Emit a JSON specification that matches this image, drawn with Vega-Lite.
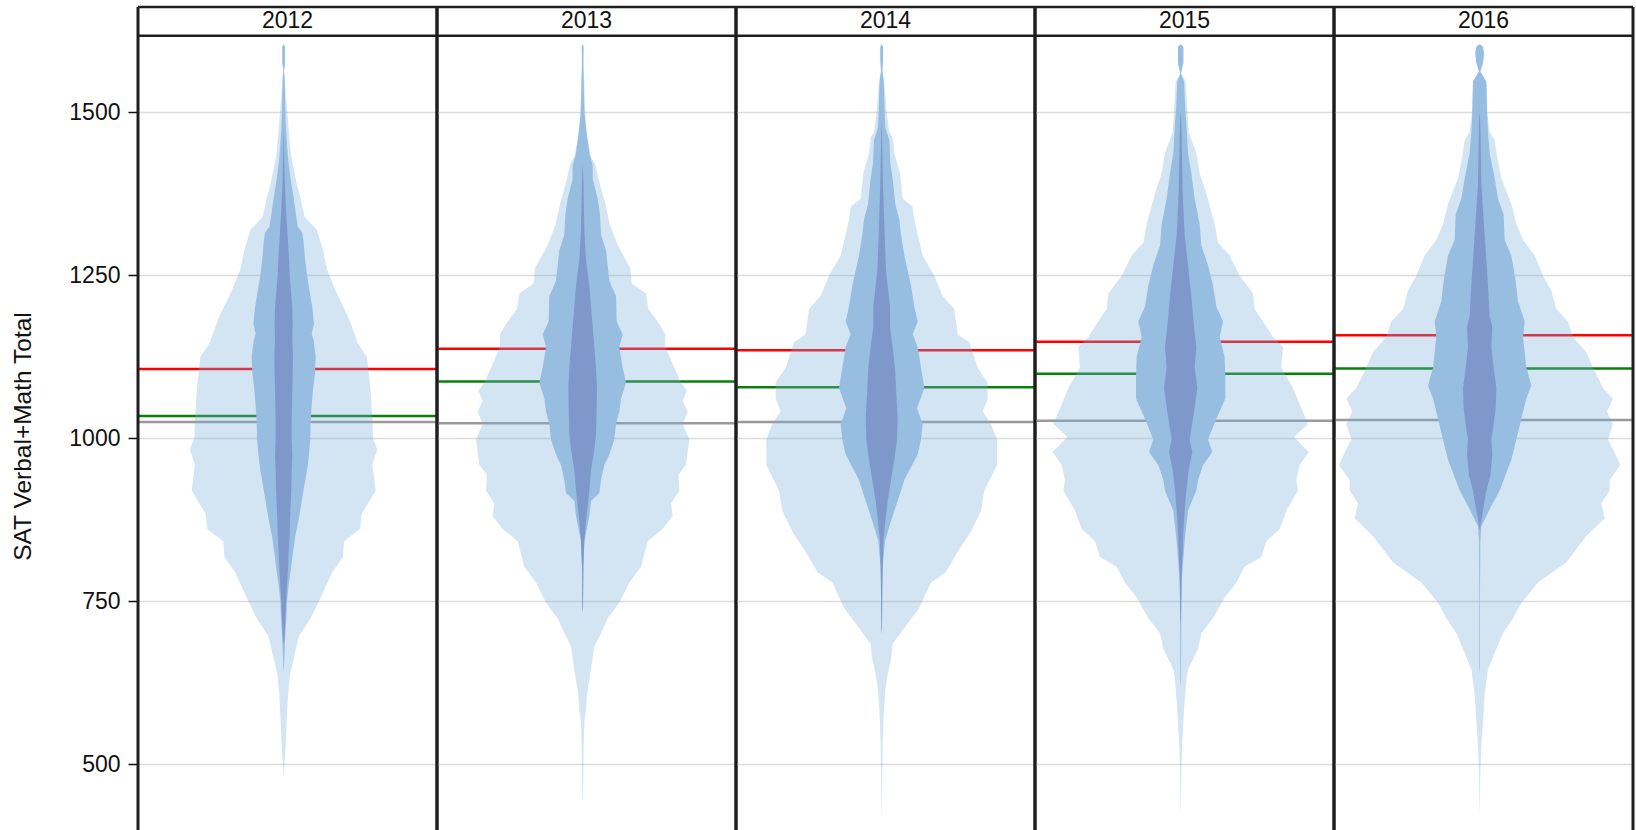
{
"$schema": "https://vega.github.io/schema/vega-lite/v6.json",
"padding": {"left": 10, "top": 5, "right": 0, "bottom": 0},
"background": "white",
"config": {
  "view": {"stroke": null},
  "font": "Liberation Sans",
  "axis": {"labelFont": "Liberation Sans", "titleFont": "Liberation Sans"}
},
"data": {"values": [
{"year":2012,"layer":"outer","score":478,"lo":0,"hi":0},{"year":2012,"layer":"outer","score":490,"lo":-1,"hi":1},{"year":2012,"layer":"outer","score":529,"lo":-6,"hi":6},{"year":2012,"layer":"outer","score":567,"lo":-9,"hi":9},{"year":2012,"layer":"outer","score":607,"lo":-13,"hi":13},{"year":2012,"layer":"outer","score":638,"lo":-19,"hi":19},{"year":2012,"layer":"outer","score":654,"lo":-26,"hi":26},{"year":2012,"layer":"outer","score":697,"lo":-46,"hi":46},{"year":2012,"layer":"outer","score":724,"lo":-81,"hi":81},{"year":2012,"layer":"outer","score":756,"lo":-111,"hi":111},{"year":2012,"layer":"outer","score":795,"lo":-146,"hi":146},{"year":2012,"layer":"outer","score":818,"lo":-178,"hi":178},{"year":2012,"layer":"outer","score":842,"lo":-181,"hi":181},{"year":2012,"layer":"outer","score":861,"lo":-229,"hi":229},{"year":2012,"layer":"outer","score":884,"lo":-234,"hi":234},{"year":2012,"layer":"outer","score":920,"lo":-276,"hi":276},{"year":2012,"layer":"outer","score":959,"lo":-266,"hi":266},{"year":2012,"layer":"outer","score":983,"lo":-281,"hi":281},{"year":2012,"layer":"outer","score":1000,"lo":-268,"hi":268},{"year":2012,"layer":"outer","score":1030,"lo":-266,"hi":266},{"year":2012,"layer":"outer","score":1077,"lo":-260,"hi":260},{"year":2012,"layer":"outer","score":1124,"lo":-250,"hi":250},{"year":2012,"layer":"outer","score":1147,"lo":-221,"hi":221},{"year":2012,"layer":"outer","score":1183,"lo":-196,"hi":196},{"year":2012,"layer":"outer","score":1226,"lo":-156,"hi":156},{"year":2012,"layer":"outer","score":1257,"lo":-131,"hi":131},{"year":2012,"layer":"outer","score":1288,"lo":-118,"hi":118},{"year":2012,"layer":"outer","score":1320,"lo":-99,"hi":99},{"year":2012,"layer":"outer","score":1339,"lo":-63,"hi":63},{"year":2012,"layer":"outer","score":1367,"lo":-51,"hi":51},{"year":2012,"layer":"outer","score":1390,"lo":-39,"hi":39},{"year":2012,"layer":"outer","score":1437,"lo":-21,"hi":21},{"year":2012,"layer":"outer","score":1500,"lo":-11,"hi":11},{"year":2012,"layer":"outer","score":1530,"lo":-6,"hi":6},{"year":2012,"layer":"outer","score":1555,"lo":-3,"hi":3},{"year":2012,"layer":"outer","score":1563,"lo":-1,"hi":1},{"year":2012,"layer":"outer","score":1575,"lo":-4,"hi":4},{"year":2012,"layer":"outer","score":1600,"lo":-4,"hi":4},{"year":2012,"layer":"outer","score":1604,"lo":0,"hi":0},
{"year":2012,"layer":"middle","score":640,"lo":0,"hi":0},{"year":2012,"layer":"middle","score":650,"lo":-1,"hi":1},{"year":2012,"layer":"middle","score":675,"lo":-3,"hi":3},{"year":2012,"layer":"middle","score":700,"lo":-5,"hi":5},{"year":2012,"layer":"middle","score":725,"lo":-8,"hi":8},{"year":2012,"layer":"middle","score":750,"lo":-10,"hi":10},{"year":2012,"layer":"middle","score":775,"lo":-15,"hi":15},{"year":2012,"layer":"middle","score":800,"lo":-22,"hi":22},{"year":2012,"layer":"middle","score":825,"lo":-28,"hi":28},{"year":2012,"layer":"middle","score":850,"lo":-35,"hi":35},{"year":2012,"layer":"middle","score":875,"lo":-45,"hi":45},{"year":2012,"layer":"middle","score":900,"lo":-53,"hi":53},{"year":2012,"layer":"middle","score":925,"lo":-61,"hi":61},{"year":2012,"layer":"middle","score":950,"lo":-70,"hi":70},{"year":2012,"layer":"middle","score":975,"lo":-76,"hi":76},{"year":2012,"layer":"middle","score":1000,"lo":-80,"hi":80},{"year":2012,"layer":"middle","score":1025,"lo":-81,"hi":81},{"year":2012,"layer":"middle","score":1050,"lo":-84,"hi":84},{"year":2012,"layer":"middle","score":1075,"lo":-88,"hi":88},{"year":2012,"layer":"middle","score":1100,"lo":-94,"hi":94},{"year":2012,"layer":"middle","score":1125,"lo":-96,"hi":96},{"year":2012,"layer":"middle","score":1150,"lo":-90,"hi":90},{"year":2012,"layer":"middle","score":1160,"lo":-84,"hi":84},{"year":2012,"layer":"middle","score":1175,"lo":-91,"hi":91},{"year":2012,"layer":"middle","score":1200,"lo":-86,"hi":86},{"year":2012,"layer":"middle","score":1225,"lo":-78,"hi":78},{"year":2012,"layer":"middle","score":1250,"lo":-70,"hi":70},{"year":2012,"layer":"middle","score":1275,"lo":-64,"hi":64},{"year":2012,"layer":"middle","score":1300,"lo":-60,"hi":60},{"year":2012,"layer":"middle","score":1315,"lo":-56,"hi":56},{"year":2012,"layer":"middle","score":1325,"lo":-42,"hi":42},{"year":2012,"layer":"middle","score":1350,"lo":-35,"hi":35},{"year":2012,"layer":"middle","score":1375,"lo":-28,"hi":28},{"year":2012,"layer":"middle","score":1400,"lo":-20,"hi":20},{"year":2012,"layer":"middle","score":1425,"lo":-14,"hi":14},{"year":2012,"layer":"middle","score":1450,"lo":-10,"hi":10},{"year":2012,"layer":"middle","score":1475,"lo":-7,"hi":7},{"year":2012,"layer":"middle","score":1500,"lo":-5,"hi":5},{"year":2012,"layer":"middle","score":1525,"lo":-4,"hi":4},{"year":2012,"layer":"middle","score":1550,"lo":-3,"hi":3},{"year":2012,"layer":"middle","score":1563,"lo":-1,"hi":1},{"year":2012,"layer":"middle","score":1575,"lo":-4,"hi":4},{"year":2012,"layer":"middle","score":1600,"lo":-4,"hi":4},{"year":2012,"layer":"middle","score":1604,"lo":0,"hi":0},
{"year":2012,"layer":"inner","score":685,"lo":0,"hi":0},{"year":2012,"layer":"inner","score":700,"lo":-3,"hi":3},{"year":2012,"layer":"inner","score":725,"lo":-5,"hi":5},{"year":2012,"layer":"inner","score":750,"lo":-7,"hi":7},{"year":2012,"layer":"inner","score":775,"lo":-10,"hi":10},{"year":2012,"layer":"inner","score":800,"lo":-13,"hi":13},{"year":2012,"layer":"inner","score":825,"lo":-15,"hi":15},{"year":2012,"layer":"inner","score":850,"lo":-18,"hi":18},{"year":2012,"layer":"inner","score":875,"lo":-19,"hi":19},{"year":2012,"layer":"inner","score":900,"lo":-21,"hi":21},{"year":2012,"layer":"inner","score":925,"lo":-23,"hi":23},{"year":2012,"layer":"inner","score":950,"lo":-24,"hi":24},{"year":2012,"layer":"inner","score":975,"lo":-26,"hi":26},{"year":2012,"layer":"inner","score":1000,"lo":-24,"hi":24},{"year":2012,"layer":"inner","score":1025,"lo":-24,"hi":24},{"year":2012,"layer":"inner","score":1050,"lo":-25,"hi":25},{"year":2012,"layer":"inner","score":1075,"lo":-26,"hi":26},{"year":2012,"layer":"inner","score":1100,"lo":-27,"hi":27},{"year":2012,"layer":"inner","score":1125,"lo":-28,"hi":28},{"year":2012,"layer":"inner","score":1150,"lo":-26,"hi":26},{"year":2012,"layer":"inner","score":1175,"lo":-27,"hi":27},{"year":2012,"layer":"inner","score":1200,"lo":-26,"hi":26},{"year":2012,"layer":"inner","score":1225,"lo":-22,"hi":22},{"year":2012,"layer":"inner","score":1250,"lo":-18,"hi":18},{"year":2012,"layer":"inner","score":1275,"lo":-16,"hi":16},{"year":2012,"layer":"inner","score":1300,"lo":-13,"hi":13},{"year":2012,"layer":"inner","score":1325,"lo":-10,"hi":10},{"year":2012,"layer":"inner","score":1350,"lo":-7,"hi":7},{"year":2012,"layer":"inner","score":1375,"lo":-5,"hi":5},{"year":2012,"layer":"inner","score":1400,"lo":-3,"hi":3},{"year":2012,"layer":"inner","score":1450,"lo":-1,"hi":1},{"year":2012,"layer":"inner","score":1470,"lo":0,"hi":0},
{"year":2013,"layer":"outer","score":442,"lo":0,"hi":0},{"year":2013,"layer":"outer","score":450,"lo":-1,"hi":1},{"year":2013,"layer":"outer","score":528,"lo":-3,"hi":3},{"year":2013,"layer":"outer","score":567,"lo":-5,"hi":5},{"year":2013,"layer":"outer","score":583,"lo":-10,"hi":10},{"year":2013,"layer":"outer","score":607,"lo":-13,"hi":13},{"year":2013,"layer":"outer","score":646,"lo":-25,"hi":25},{"year":2013,"layer":"outer","score":681,"lo":-35,"hi":35},{"year":2013,"layer":"outer","score":701,"lo":-55,"hi":55},{"year":2013,"layer":"outer","score":724,"lo":-75,"hi":75},{"year":2013,"layer":"outer","score":748,"lo":-110,"hi":110},{"year":2013,"layer":"outer","score":779,"lo":-140,"hi":140},{"year":2013,"layer":"outer","score":803,"lo":-175,"hi":175},{"year":2013,"layer":"outer","score":842,"lo":-195,"hi":195},{"year":2013,"layer":"outer","score":861,"lo":-240,"hi":240},{"year":2013,"layer":"outer","score":881,"lo":-270,"hi":270},{"year":2013,"layer":"outer","score":900,"lo":-265,"hi":265},{"year":2013,"layer":"outer","score":920,"lo":-290,"hi":290},{"year":2013,"layer":"outer","score":944,"lo":-287,"hi":287},{"year":2013,"layer":"outer","score":959,"lo":-310,"hi":310},{"year":2013,"layer":"outer","score":979,"lo":-315,"hi":315},{"year":2013,"layer":"outer","score":998,"lo":-320,"hi":320},{"year":2013,"layer":"outer","score":1022,"lo":-300,"hi":300},{"year":2013,"layer":"outer","score":1041,"lo":-315,"hi":315},{"year":2013,"layer":"outer","score":1057,"lo":-300,"hi":300},{"year":2013,"layer":"outer","score":1073,"lo":-313,"hi":313},{"year":2013,"layer":"outer","score":1085,"lo":-295,"hi":295},{"year":2013,"layer":"outer","score":1108,"lo":-275,"hi":275},{"year":2013,"layer":"outer","score":1140,"lo":-248,"hi":248},{"year":2013,"layer":"outer","score":1159,"lo":-248,"hi":248},{"year":2013,"layer":"outer","score":1175,"lo":-230,"hi":230},{"year":2013,"layer":"outer","score":1198,"lo":-197,"hi":197},{"year":2013,"layer":"outer","score":1222,"lo":-190,"hi":190},{"year":2013,"layer":"outer","score":1237,"lo":-147,"hi":147},{"year":2013,"layer":"outer","score":1261,"lo":-143,"hi":143},{"year":2013,"layer":"outer","score":1296,"lo":-105,"hi":105},{"year":2013,"layer":"outer","score":1328,"lo":-81,"hi":81},{"year":2013,"layer":"outer","score":1359,"lo":-68,"hi":68},{"year":2013,"layer":"outer","score":1398,"lo":-47,"hi":47},{"year":2013,"layer":"outer","score":1420,"lo":-38,"hi":38},{"year":2013,"layer":"outer","score":1430,"lo":-25,"hi":25},{"year":2013,"layer":"outer","score":1445,"lo":-20,"hi":20},{"year":2013,"layer":"outer","score":1469,"lo":-10,"hi":10},{"year":2013,"layer":"outer","score":1500,"lo":-8,"hi":8},{"year":2013,"layer":"outer","score":1525,"lo":-6,"hi":6},{"year":2013,"layer":"outer","score":1550,"lo":-5,"hi":5},{"year":2013,"layer":"outer","score":1560,"lo":-3,"hi":3},{"year":2013,"layer":"outer","score":1575,"lo":-2,"hi":2},{"year":2013,"layer":"outer","score":1600,"lo":-2,"hi":2},{"year":2013,"layer":"outer","score":1604,"lo":0,"hi":0},
{"year":2013,"layer":"middle","score":740,"lo":0,"hi":0},{"year":2013,"layer":"middle","score":745,"lo":-1,"hi":1},{"year":2013,"layer":"middle","score":803,"lo":-2,"hi":2},{"year":2013,"layer":"middle","score":842,"lo":-5,"hi":5},{"year":2013,"layer":"middle","score":881,"lo":-20,"hi":20},{"year":2013,"layer":"middle","score":904,"lo":-25,"hi":25},{"year":2013,"layer":"middle","score":916,"lo":-50,"hi":50},{"year":2013,"layer":"middle","score":936,"lo":-55,"hi":55},{"year":2013,"layer":"middle","score":959,"lo":-65,"hi":65},{"year":2013,"layer":"middle","score":975,"lo":-80,"hi":80},{"year":2013,"layer":"middle","score":998,"lo":-95,"hi":95},{"year":2013,"layer":"middle","score":1022,"lo":-100,"hi":100},{"year":2013,"layer":"middle","score":1041,"lo":-110,"hi":110},{"year":2013,"layer":"middle","score":1061,"lo":-115,"hi":115},{"year":2013,"layer":"middle","score":1085,"lo":-130,"hi":130},{"year":2013,"layer":"middle","score":1108,"lo":-120,"hi":120},{"year":2013,"layer":"middle","score":1140,"lo":-110,"hi":110},{"year":2013,"layer":"middle","score":1159,"lo":-120,"hi":120},{"year":2013,"layer":"middle","score":1179,"lo":-102,"hi":102},{"year":2013,"layer":"middle","score":1218,"lo":-100,"hi":100},{"year":2013,"layer":"middle","score":1241,"lo":-80,"hi":80},{"year":2013,"layer":"middle","score":1265,"lo":-75,"hi":75},{"year":2013,"layer":"middle","score":1288,"lo":-70,"hi":70},{"year":2013,"layer":"middle","score":1312,"lo":-55,"hi":55},{"year":2013,"layer":"middle","score":1343,"lo":-52,"hi":52},{"year":2013,"layer":"middle","score":1367,"lo":-45,"hi":45},{"year":2013,"layer":"middle","score":1398,"lo":-30,"hi":30},{"year":2013,"layer":"middle","score":1418,"lo":-30,"hi":30},{"year":2013,"layer":"middle","score":1437,"lo":-20,"hi":20},{"year":2013,"layer":"middle","score":1469,"lo":-12,"hi":12},{"year":2013,"layer":"middle","score":1500,"lo":-5,"hi":5},{"year":2013,"layer":"middle","score":1550,"lo":-3,"hi":3},{"year":2013,"layer":"middle","score":1575,"lo":-2,"hi":2},{"year":2013,"layer":"middle","score":1600,"lo":-3,"hi":3},{"year":2013,"layer":"middle","score":1604,"lo":0,"hi":0},
{"year":2013,"layer":"inner","score":732,"lo":0,"hi":0},{"year":2013,"layer":"inner","score":740,"lo":-1,"hi":1},{"year":2013,"layer":"inner","score":803,"lo":-2,"hi":2},{"year":2013,"layer":"inner","score":842,"lo":-5,"hi":5},{"year":2013,"layer":"inner","score":873,"lo":-10,"hi":10},{"year":2013,"layer":"inner","score":896,"lo":-15,"hi":15},{"year":2013,"layer":"inner","score":920,"lo":-20,"hi":20},{"year":2013,"layer":"inner","score":951,"lo":-25,"hi":25},{"year":2013,"layer":"inner","score":983,"lo":-35,"hi":35},{"year":2013,"layer":"inner","score":1006,"lo":-40,"hi":40},{"year":2013,"layer":"inner","score":1046,"lo":-42,"hi":42},{"year":2013,"layer":"inner","score":1077,"lo":-43,"hi":43},{"year":2013,"layer":"inner","score":1108,"lo":-40,"hi":40},{"year":2013,"layer":"inner","score":1140,"lo":-35,"hi":35},{"year":2013,"layer":"inner","score":1171,"lo":-30,"hi":30},{"year":2013,"layer":"inner","score":1202,"lo":-25,"hi":25},{"year":2013,"layer":"inner","score":1234,"lo":-20,"hi":20},{"year":2013,"layer":"inner","score":1273,"lo":-10,"hi":10},{"year":2013,"layer":"inner","score":1320,"lo":-5,"hi":5},{"year":2013,"layer":"inner","score":1398,"lo":-2,"hi":2},{"year":2013,"layer":"inner","score":1420,"lo":0,"hi":0},
{"year":2014,"layer":"outer","score":418,"lo":0,"hi":0},{"year":2014,"layer":"outer","score":450,"lo":-1,"hi":1},{"year":2014,"layer":"outer","score":528,"lo":-3,"hi":3},{"year":2014,"layer":"outer","score":567,"lo":-5,"hi":5},{"year":2014,"layer":"outer","score":614,"lo":-11,"hi":11},{"year":2014,"layer":"outer","score":638,"lo":-18,"hi":18},{"year":2014,"layer":"outer","score":661,"lo":-28,"hi":28},{"year":2014,"layer":"outer","score":685,"lo":-33,"hi":33},{"year":2014,"layer":"outer","score":716,"lo":-78,"hi":78},{"year":2014,"layer":"outer","score":740,"lo":-113,"hi":113},{"year":2014,"layer":"outer","score":779,"lo":-148,"hi":148},{"year":2014,"layer":"outer","score":795,"lo":-193,"hi":193},{"year":2014,"layer":"outer","score":826,"lo":-228,"hi":228},{"year":2014,"layer":"outer","score":857,"lo":-268,"hi":268},{"year":2014,"layer":"outer","score":889,"lo":-298,"hi":298},{"year":2014,"layer":"outer","score":920,"lo":-308,"hi":308},{"year":2014,"layer":"outer","score":959,"lo":-346,"hi":346},{"year":2014,"layer":"outer","score":998,"lo":-346,"hi":346},{"year":2014,"layer":"outer","score":1022,"lo":-328,"hi":328},{"year":2014,"layer":"outer","score":1041,"lo":-303,"hi":303},{"year":2014,"layer":"outer","score":1061,"lo":-318,"hi":318},{"year":2014,"layer":"outer","score":1085,"lo":-318,"hi":318},{"year":2014,"layer":"outer","score":1108,"lo":-288,"hi":288},{"year":2014,"layer":"outer","score":1124,"lo":-278,"hi":278},{"year":2014,"layer":"outer","score":1147,"lo":-263,"hi":263},{"year":2014,"layer":"outer","score":1159,"lo":-228,"hi":228},{"year":2014,"layer":"outer","score":1179,"lo":-223,"hi":223},{"year":2014,"layer":"outer","score":1198,"lo":-218,"hi":218},{"year":2014,"layer":"outer","score":1218,"lo":-183,"hi":183},{"year":2014,"layer":"outer","score":1249,"lo":-158,"hi":158},{"year":2014,"layer":"outer","score":1280,"lo":-123,"hi":123},{"year":2014,"layer":"outer","score":1312,"lo":-108,"hi":108},{"year":2014,"layer":"outer","score":1335,"lo":-98,"hi":98},{"year":2014,"layer":"outer","score":1355,"lo":-93,"hi":93},{"year":2014,"layer":"outer","score":1367,"lo":-63,"hi":63},{"year":2014,"layer":"outer","score":1406,"lo":-55,"hi":55},{"year":2014,"layer":"outer","score":1437,"lo":-38,"hi":38},{"year":2014,"layer":"outer","score":1461,"lo":-33,"hi":33},{"year":2014,"layer":"outer","score":1469,"lo":-23,"hi":23},{"year":2014,"layer":"outer","score":1500,"lo":-15,"hi":15},{"year":2014,"layer":"outer","score":1547,"lo":-8,"hi":8},{"year":2014,"layer":"outer","score":1563,"lo":-2,"hi":2},{"year":2014,"layer":"outer","score":1580,"lo":-4,"hi":4},{"year":2014,"layer":"outer","score":1600,"lo":-4,"hi":4},{"year":2014,"layer":"outer","score":1604,"lo":0,"hi":0},
{"year":2014,"layer":"middle","score":708,"lo":0,"hi":0},{"year":2014,"layer":"middle","score":763,"lo":-1,"hi":1},{"year":2014,"layer":"middle","score":803,"lo":-3,"hi":3},{"year":2014,"layer":"middle","score":842,"lo":-10,"hi":10},{"year":2014,"layer":"middle","score":865,"lo":-23,"hi":23},{"year":2014,"layer":"middle","score":889,"lo":-38,"hi":38},{"year":2014,"layer":"middle","score":912,"lo":-53,"hi":53},{"year":2014,"layer":"middle","score":936,"lo":-68,"hi":68},{"year":2014,"layer":"middle","score":951,"lo":-83,"hi":83},{"year":2014,"layer":"middle","score":975,"lo":-108,"hi":108},{"year":2014,"layer":"middle","score":998,"lo":-118,"hi":118},{"year":2014,"layer":"middle","score":1022,"lo":-123,"hi":123},{"year":2014,"layer":"middle","score":1046,"lo":-106,"hi":106},{"year":2014,"layer":"middle","score":1077,"lo":-128,"hi":128},{"year":2014,"layer":"middle","score":1108,"lo":-118,"hi":118},{"year":2014,"layer":"middle","score":1140,"lo":-108,"hi":108},{"year":2014,"layer":"middle","score":1159,"lo":-93,"hi":93},{"year":2014,"layer":"middle","score":1179,"lo":-108,"hi":108},{"year":2014,"layer":"middle","score":1202,"lo":-98,"hi":98},{"year":2014,"layer":"middle","score":1234,"lo":-88,"hi":88},{"year":2014,"layer":"middle","score":1257,"lo":-78,"hi":78},{"year":2014,"layer":"middle","score":1280,"lo":-68,"hi":68},{"year":2014,"layer":"middle","score":1312,"lo":-58,"hi":58},{"year":2014,"layer":"middle","score":1335,"lo":-53,"hi":53},{"year":2014,"layer":"middle","score":1359,"lo":-41,"hi":41},{"year":2014,"layer":"middle","score":1398,"lo":-33,"hi":33},{"year":2014,"layer":"middle","score":1422,"lo":-26,"hi":26},{"year":2014,"layer":"middle","score":1457,"lo":-23,"hi":23},{"year":2014,"layer":"middle","score":1476,"lo":-11,"hi":11},{"year":2014,"layer":"middle","score":1500,"lo":-9,"hi":9},{"year":2014,"layer":"middle","score":1547,"lo":-6,"hi":6},{"year":2014,"layer":"middle","score":1563,"lo":-2,"hi":2},{"year":2014,"layer":"middle","score":1580,"lo":-4,"hi":4},{"year":2014,"layer":"middle","score":1600,"lo":-4,"hi":4},{"year":2014,"layer":"middle","score":1604,"lo":0,"hi":0},
{"year":2014,"layer":"inner","score":700,"lo":0,"hi":0},{"year":2014,"layer":"inner","score":708,"lo":-1,"hi":1},{"year":2014,"layer":"inner","score":763,"lo":-2,"hi":2},{"year":2014,"layer":"inner","score":803,"lo":-3,"hi":3},{"year":2014,"layer":"inner","score":842,"lo":-5,"hi":5},{"year":2014,"layer":"inner","score":873,"lo":-11,"hi":11},{"year":2014,"layer":"inner","score":904,"lo":-18,"hi":18},{"year":2014,"layer":"inner","score":936,"lo":-28,"hi":28},{"year":2014,"layer":"inner","score":967,"lo":-38,"hi":38},{"year":2014,"layer":"inner","score":998,"lo":-46,"hi":46},{"year":2014,"layer":"inner","score":1030,"lo":-48,"hi":48},{"year":2014,"layer":"inner","score":1077,"lo":-43,"hi":43},{"year":2014,"layer":"inner","score":1108,"lo":-40,"hi":40},{"year":2014,"layer":"inner","score":1140,"lo":-33,"hi":33},{"year":2014,"layer":"inner","score":1171,"lo":-25,"hi":25},{"year":2014,"layer":"inner","score":1202,"lo":-25,"hi":25},{"year":2014,"layer":"inner","score":1257,"lo":-13,"hi":13},{"year":2014,"layer":"inner","score":1312,"lo":-9,"hi":9},{"year":2014,"layer":"inner","score":1390,"lo":-4,"hi":4},{"year":2014,"layer":"inner","score":1469,"lo":-1,"hi":1},{"year":2014,"layer":"inner","score":1490,"lo":0,"hi":0},
{"year":2015,"layer":"outer","score":418,"lo":0,"hi":0},{"year":2015,"layer":"outer","score":489,"lo":-2,"hi":2},{"year":2015,"layer":"outer","score":528,"lo":-4,"hi":4},{"year":2015,"layer":"outer","score":583,"lo":-10,"hi":10},{"year":2015,"layer":"outer","score":630,"lo":-17,"hi":17},{"year":2015,"layer":"outer","score":646,"lo":-22,"hi":22},{"year":2015,"layer":"outer","score":677,"lo":-52,"hi":52},{"year":2015,"layer":"outer","score":701,"lo":-62,"hi":62},{"year":2015,"layer":"outer","score":724,"lo":-97,"hi":97},{"year":2015,"layer":"outer","score":756,"lo":-132,"hi":132},{"year":2015,"layer":"outer","score":779,"lo":-167,"hi":167},{"year":2015,"layer":"outer","score":803,"lo":-192,"hi":192},{"year":2015,"layer":"outer","score":818,"lo":-242,"hi":242},{"year":2015,"layer":"outer","score":842,"lo":-257,"hi":257},{"year":2015,"layer":"outer","score":861,"lo":-297,"hi":297},{"year":2015,"layer":"outer","score":889,"lo":-317,"hi":317},{"year":2015,"layer":"outer","score":920,"lo":-352,"hi":352},{"year":2015,"layer":"outer","score":936,"lo":-347,"hi":347},{"year":2015,"layer":"outer","score":959,"lo":-357,"hi":357},{"year":2015,"layer":"outer","score":979,"lo":-384,"hi":384},{"year":2015,"layer":"outer","score":1002,"lo":-340,"hi":340},{"year":2015,"layer":"outer","score":1022,"lo":-382,"hi":382},{"year":2015,"layer":"outer","score":1046,"lo":-362,"hi":362},{"year":2015,"layer":"outer","score":1077,"lo":-337,"hi":337},{"year":2015,"layer":"outer","score":1108,"lo":-302,"hi":302},{"year":2015,"layer":"outer","score":1140,"lo":-307,"hi":307},{"year":2015,"layer":"outer","score":1155,"lo":-277,"hi":277},{"year":2015,"layer":"outer","score":1175,"lo":-252,"hi":252},{"year":2015,"layer":"outer","score":1198,"lo":-222,"hi":222},{"year":2015,"layer":"outer","score":1222,"lo":-217,"hi":217},{"year":2015,"layer":"outer","score":1249,"lo":-177,"hi":177},{"year":2015,"layer":"outer","score":1280,"lo":-147,"hi":147},{"year":2015,"layer":"outer","score":1300,"lo":-112,"hi":112},{"year":2015,"layer":"outer","score":1328,"lo":-102,"hi":102},{"year":2015,"layer":"outer","score":1375,"lo":-77,"hi":77},{"year":2015,"layer":"outer","score":1406,"lo":-57,"hi":57},{"year":2015,"layer":"outer","score":1437,"lo":-47,"hi":47},{"year":2015,"layer":"outer","score":1469,"lo":-24,"hi":24},{"year":2015,"layer":"outer","score":1500,"lo":-20,"hi":20},{"year":2015,"layer":"outer","score":1547,"lo":-15,"hi":15},{"year":2015,"layer":"outer","score":1559,"lo":-1,"hi":1},{"year":2015,"layer":"outer","score":1575,"lo":-8,"hi":8},{"year":2015,"layer":"outer","score":1600,"lo":-8,"hi":8},{"year":2015,"layer":"outer","score":1604,"lo":0,"hi":0},
{"year":2015,"layer":"middle","score":620,"lo":0,"hi":0},{"year":2015,"layer":"middle","score":630,"lo":-1,"hi":1},{"year":2015,"layer":"middle","score":740,"lo":-2,"hi":2},{"year":2015,"layer":"middle","score":779,"lo":-3,"hi":3},{"year":2015,"layer":"middle","score":810,"lo":-7,"hi":7},{"year":2015,"layer":"middle","score":842,"lo":-12,"hi":12},{"year":2015,"layer":"middle","score":889,"lo":-22,"hi":22},{"year":2015,"layer":"middle","score":920,"lo":-47,"hi":47},{"year":2015,"layer":"middle","score":936,"lo":-52,"hi":52},{"year":2015,"layer":"middle","score":959,"lo":-67,"hi":67},{"year":2015,"layer":"middle","score":979,"lo":-95,"hi":95},{"year":2015,"layer":"middle","score":998,"lo":-82,"hi":82},{"year":2015,"layer":"middle","score":1030,"lo":-107,"hi":107},{"year":2015,"layer":"middle","score":1061,"lo":-134,"hi":134},{"year":2015,"layer":"middle","score":1093,"lo":-134,"hi":134},{"year":2015,"layer":"middle","score":1124,"lo":-132,"hi":132},{"year":2015,"layer":"middle","score":1155,"lo":-117,"hi":117},{"year":2015,"layer":"middle","score":1179,"lo":-127,"hi":127},{"year":2015,"layer":"middle","score":1202,"lo":-107,"hi":107},{"year":2015,"layer":"middle","score":1234,"lo":-97,"hi":97},{"year":2015,"layer":"middle","score":1265,"lo":-82,"hi":82},{"year":2015,"layer":"middle","score":1296,"lo":-62,"hi":62},{"year":2015,"layer":"middle","score":1328,"lo":-57,"hi":57},{"year":2015,"layer":"middle","score":1367,"lo":-42,"hi":42},{"year":2015,"layer":"middle","score":1406,"lo":-32,"hi":32},{"year":2015,"layer":"middle","score":1437,"lo":-22,"hi":22},{"year":2015,"layer":"middle","score":1484,"lo":-17,"hi":17},{"year":2015,"layer":"middle","score":1500,"lo":-14,"hi":14},{"year":2015,"layer":"middle","score":1547,"lo":-10,"hi":10},{"year":2015,"layer":"middle","score":1559,"lo":-1,"hi":1},{"year":2015,"layer":"middle","score":1575,"lo":-8,"hi":8},{"year":2015,"layer":"middle","score":1600,"lo":-8,"hi":8},{"year":2015,"layer":"middle","score":1604,"lo":0,"hi":0},
{"year":2015,"layer":"inner","score":715,"lo":0,"hi":0},{"year":2015,"layer":"inner","score":724,"lo":-1,"hi":1},{"year":2015,"layer":"inner","score":763,"lo":-2,"hi":2},{"year":2015,"layer":"inner","score":795,"lo":-3,"hi":3},{"year":2015,"layer":"inner","score":826,"lo":-6,"hi":6},{"year":2015,"layer":"inner","score":857,"lo":-8,"hi":8},{"year":2015,"layer":"inner","score":889,"lo":-12,"hi":12},{"year":2015,"layer":"inner","score":920,"lo":-17,"hi":17},{"year":2015,"layer":"inner","score":951,"lo":-24,"hi":24},{"year":2015,"layer":"inner","score":979,"lo":-35,"hi":35},{"year":2015,"layer":"inner","score":998,"lo":-27,"hi":27},{"year":2015,"layer":"inner","score":1030,"lo":-37,"hi":37},{"year":2015,"layer":"inner","score":1077,"lo":-50,"hi":50},{"year":2015,"layer":"inner","score":1108,"lo":-42,"hi":42},{"year":2015,"layer":"inner","score":1140,"lo":-47,"hi":47},{"year":2015,"layer":"inner","score":1171,"lo":-40,"hi":40},{"year":2015,"layer":"inner","score":1218,"lo":-32,"hi":32},{"year":2015,"layer":"inner","score":1265,"lo":-22,"hi":22},{"year":2015,"layer":"inner","score":1312,"lo":-12,"hi":12},{"year":2015,"layer":"inner","score":1375,"lo":-6,"hi":6},{"year":2015,"layer":"inner","score":1429,"lo":-4,"hi":4},{"year":2015,"layer":"inner","score":1484,"lo":-2,"hi":2},{"year":2015,"layer":"inner","score":1500,"lo":0,"hi":0},
{"year":2016,"layer":"outer","score":420,"lo":0,"hi":0},{"year":2016,"layer":"outer","score":450,"lo":-1,"hi":1},{"year":2016,"layer":"outer","score":489,"lo":-2,"hi":2},{"year":2016,"layer":"outer","score":528,"lo":-5,"hi":5},{"year":2016,"layer":"outer","score":567,"lo":-10,"hi":10},{"year":2016,"layer":"outer","score":607,"lo":-15,"hi":15},{"year":2016,"layer":"outer","score":646,"lo":-25,"hi":25},{"year":2016,"layer":"outer","score":677,"lo":-50,"hi":50},{"year":2016,"layer":"outer","score":701,"lo":-70,"hi":70},{"year":2016,"layer":"outer","score":724,"lo":-100,"hi":100},{"year":2016,"layer":"outer","score":748,"lo":-125,"hi":125},{"year":2016,"layer":"outer","score":779,"lo":-175,"hi":175},{"year":2016,"layer":"outer","score":810,"lo":-260,"hi":260},{"year":2016,"layer":"outer","score":850,"lo":-320,"hi":320},{"year":2016,"layer":"outer","score":877,"lo":-375,"hi":375},{"year":2016,"layer":"outer","score":900,"lo":-365,"hi":365},{"year":2016,"layer":"outer","score":920,"lo":-390,"hi":390},{"year":2016,"layer":"outer","score":936,"lo":-390,"hi":390},{"year":2016,"layer":"outer","score":959,"lo":-422,"hi":422},{"year":2016,"layer":"outer","score":983,"lo":-400,"hi":400},{"year":2016,"layer":"outer","score":998,"lo":-385,"hi":385},{"year":2016,"layer":"outer","score":1022,"lo":-400,"hi":400},{"year":2016,"layer":"outer","score":1041,"lo":-382,"hi":382},{"year":2016,"layer":"outer","score":1061,"lo":-400,"hi":400},{"year":2016,"layer":"outer","score":1077,"lo":-370,"hi":370},{"year":2016,"layer":"outer","score":1108,"lo":-340,"hi":340},{"year":2016,"layer":"outer","score":1132,"lo":-320,"hi":320},{"year":2016,"layer":"outer","score":1155,"lo":-280,"hi":280},{"year":2016,"layer":"outer","score":1179,"lo":-265,"hi":265},{"year":2016,"layer":"outer","score":1198,"lo":-230,"hi":230},{"year":2016,"layer":"outer","score":1226,"lo":-215,"hi":215},{"year":2016,"layer":"outer","score":1249,"lo":-190,"hi":190},{"year":2016,"layer":"outer","score":1280,"lo":-165,"hi":165},{"year":2016,"layer":"outer","score":1304,"lo":-130,"hi":130},{"year":2016,"layer":"outer","score":1328,"lo":-110,"hi":110},{"year":2016,"layer":"outer","score":1359,"lo":-95,"hi":95},{"year":2016,"layer":"outer","score":1398,"lo":-65,"hi":65},{"year":2016,"layer":"outer","score":1429,"lo":-53,"hi":53},{"year":2016,"layer":"outer","score":1457,"lo":-45,"hi":45},{"year":2016,"layer":"outer","score":1469,"lo":-30,"hi":30},{"year":2016,"layer":"outer","score":1500,"lo":-23,"hi":23},{"year":2016,"layer":"outer","score":1547,"lo":-20,"hi":20},{"year":2016,"layer":"outer","score":1562,"lo":-2,"hi":2},{"year":2016,"layer":"outer","score":1575,"lo":-10,"hi":10},{"year":2016,"layer":"outer","score":1590,"lo":-13,"hi":13},{"year":2016,"layer":"outer","score":1600,"lo":-10,"hi":10},{"year":2016,"layer":"outer","score":1604,"lo":0,"hi":0},
{"year":2016,"layer":"middle","score":640,"lo":0,"hi":0},{"year":2016,"layer":"middle","score":650,"lo":-1,"hi":1},{"year":2016,"layer":"middle","score":763,"lo":-1,"hi":1},{"year":2016,"layer":"middle","score":842,"lo":-2,"hi":2},{"year":2016,"layer":"middle","score":865,"lo":-5,"hi":5},{"year":2016,"layer":"middle","score":896,"lo":-35,"hi":35},{"year":2016,"layer":"middle","score":920,"lo":-60,"hi":60},{"year":2016,"layer":"middle","score":943,"lo":-77,"hi":77},{"year":2016,"layer":"middle","score":967,"lo":-95,"hi":95},{"year":2016,"layer":"middle","score":998,"lo":-110,"hi":110},{"year":2016,"layer":"middle","score":1030,"lo":-125,"hi":125},{"year":2016,"layer":"middle","score":1061,"lo":-140,"hi":140},{"year":2016,"layer":"middle","score":1081,"lo":-155,"hi":155},{"year":2016,"layer":"middle","score":1108,"lo":-140,"hi":140},{"year":2016,"layer":"middle","score":1132,"lo":-135,"hi":135},{"year":2016,"layer":"middle","score":1155,"lo":-130,"hi":130},{"year":2016,"layer":"middle","score":1179,"lo":-135,"hi":135},{"year":2016,"layer":"middle","score":1210,"lo":-115,"hi":115},{"year":2016,"layer":"middle","score":1241,"lo":-108,"hi":108},{"year":2016,"layer":"middle","score":1280,"lo":-95,"hi":95},{"year":2016,"layer":"middle","score":1304,"lo":-75,"hi":75},{"year":2016,"layer":"middle","score":1343,"lo":-72,"hi":72},{"year":2016,"layer":"middle","score":1367,"lo":-55,"hi":55},{"year":2016,"layer":"middle","score":1398,"lo":-45,"hi":45},{"year":2016,"layer":"middle","score":1437,"lo":-30,"hi":30},{"year":2016,"layer":"middle","score":1469,"lo":-25,"hi":25},{"year":2016,"layer":"middle","score":1500,"lo":-22,"hi":22},{"year":2016,"layer":"middle","score":1547,"lo":-20,"hi":20},{"year":2016,"layer":"middle","score":1562,"lo":-2,"hi":2},{"year":2016,"layer":"middle","score":1575,"lo":-10,"hi":10},{"year":2016,"layer":"middle","score":1590,"lo":-13,"hi":13},{"year":2016,"layer":"middle","score":1600,"lo":-10,"hi":10},{"year":2016,"layer":"middle","score":1604,"lo":0,"hi":0},
{"year":2016,"layer":"inner","score":860,"lo":0,"hi":0},{"year":2016,"layer":"inner","score":865,"lo":-2,"hi":2},{"year":2016,"layer":"inner","score":889,"lo":-10,"hi":10},{"year":2016,"layer":"inner","score":920,"lo":-20,"hi":20},{"year":2016,"layer":"inner","score":943,"lo":-32,"hi":32},{"year":2016,"layer":"inner","score":975,"lo":-38,"hi":38},{"year":2016,"layer":"inner","score":998,"lo":-35,"hi":35},{"year":2016,"layer":"inner","score":1014,"lo":-40,"hi":40},{"year":2016,"layer":"inner","score":1046,"lo":-48,"hi":48},{"year":2016,"layer":"inner","score":1077,"lo":-50,"hi":50},{"year":2016,"layer":"inner","score":1108,"lo":-42,"hi":42},{"year":2016,"layer":"inner","score":1140,"lo":-35,"hi":35},{"year":2016,"layer":"inner","score":1171,"lo":-38,"hi":38},{"year":2016,"layer":"inner","score":1187,"lo":-30,"hi":30},{"year":2016,"layer":"inner","score":1234,"lo":-25,"hi":25},{"year":2016,"layer":"inner","score":1273,"lo":-20,"hi":20},{"year":2016,"layer":"inner","score":1312,"lo":-15,"hi":15},{"year":2016,"layer":"inner","score":1351,"lo":-10,"hi":10},{"year":2016,"layer":"inner","score":1390,"lo":-5,"hi":5},{"year":2016,"layer":"inner","score":1484,"lo":-2,"hi":2},{"year":2016,"layer":"inner","score":1500,"lo":0,"hi":0},
{"year":2012,"layer":"line","stat":"group A","value":1106},{"year":2012,"layer":"line","stat":"group B","value":1034},{"year":2012,"layer":"line","stat":"national","value":1025},
{"year":2013,"layer":"line","stat":"group A","value":1137},{"year":2013,"layer":"line","stat":"group B","value":1087},{"year":2013,"layer":"line","stat":"national","value":1023},
{"year":2014,"layer":"line","stat":"group A","value":1135},{"year":2014,"layer":"line","stat":"group B","value":1078},{"year":2014,"layer":"line","stat":"national","value":1025},
{"year":2015,"layer":"line","stat":"group A","value":1148},{"year":2015,"layer":"line","stat":"group B","value":1099},{"year":2015,"layer":"line","stat":"national","value":1027},
{"year":2016,"layer":"line","stat":"group A","value":1158},{"year":2016,"layer":"line","stat":"group B","value":1107},{"year":2016,"layer":"line","stat":"national","value":1028}
]},
"facet": {"column": {"field": "year", "type": "ordinal", "header": null}},
"spacing": 0,
"bounds": "flush",
"spec": {
  "width": 299,
  "height": 824,
  "layer": [
    {
      "transform": [{"filter": "datum.layer === 'line'"}],
      "mark": {"type": "rule", "strokeWidth": 2.5},
      "encoding": {
        "y": {"field": "value", "type": "quantitative", "title": "SAT Verbal+Math Total",
              "scale": {"domain": [398, 1661], "nice": false, "zero": false},
              "axis": {"values": [500, 750, 1000, 1250, 1500], "format": "d", "domain": false, "grid": true,
                       "gridColor": "#dcdcdc", "gridWidth": 1.5, "tickSize": 10, "tickColor": "#111111", "tickWidth": 1.5,
                       "labelFontSize": 23, "labelColor": "#111111", "labelPadding": 8,
                       "titleFontSize": 24.5, "titleFontWeight": "normal", "titleColor": "#111111", "titlePadding": 33, "titleY": 429}},
        "color": {"field": "stat", "type": "nominal", "legend": null,
                  "scale": {"domain": ["group A", "group B", "national"], "range": ["#ff0000", "#0a7f0a", "#9a9a9a"]}}
      }
    },
    {
      "transform": [{"filter": "datum.layer === 'outer'"}],
      "mark": {"type": "area", "orient": "horizontal", "interpolate": "linear", "color": "#79addb", "opacity": 0.33},
      "encoding": {
        "y": {"field": "score", "type": "quantitative", "title": "SAT Verbal+Math Total"},
        "x": {"field": "lo", "type": "quantitative", "axis": null, "scale": {"domain": [-437, 460], "nice": false, "zero": false}},
        "x2": {"field": "hi"}
      }
    },
    {
      "transform": [{"filter": "datum.layer === 'middle'"}],
      "mark": {"type": "area", "orient": "horizontal", "interpolate": "linear", "color": "#97bde1"},
      "encoding": {
        "y": {"field": "score", "type": "quantitative", "title": "SAT Verbal+Math Total"},
        "x": {"field": "lo", "type": "quantitative", "axis": null},
        "x2": {"field": "hi"}
      }
    },
    {
      "transform": [{"filter": "datum.layer === 'inner'"}],
      "mark": {"type": "area", "orient": "horizontal", "interpolate": "linear", "color": "#7e98cb"},
      "encoding": {
        "y": {"field": "score", "type": "quantitative", "title": "SAT Verbal+Math Total"},
        "x": {"field": "lo", "type": "quantitative", "axis": null},
        "x2": {"field": "hi"}
      }
    },
    {
      "transform": [{"filter": "datum.layer === 'line' && datum.stat === 'national'"}],
      "mark": {"type": "rule", "color": "#1e1e1e", "strokeWidth": 3},
      "encoding": {"x": {"datum": -437, "type": "quantitative", "axis": null}}
    },
    {
      "transform": [{"filter": "datum.layer === 'line' && datum.stat === 'national'"}],
      "mark": {"type": "rule", "color": "#1e1e1e", "strokeWidth": 3},
      "encoding": {"x": {"datum": 460, "type": "quantitative", "axis": null}}
    },
    {
      "transform": [{"filter": "datum.layer === 'line' && datum.stat === 'national'"}],
      "mark": {"type": "rule", "color": "#1e1e1e", "strokeWidth": 2.5},
      "encoding": {"y": {"datum": 1661, "type": "quantitative", "title": "SAT Verbal+Math Total"}}
    },
    {
      "transform": [{"filter": "datum.layer === 'line' && datum.stat === 'national'"}],
      "mark": {"type": "rule", "color": "#1e1e1e", "strokeWidth": 2.5},
      "encoding": {"y": {"datum": 1617, "type": "quantitative", "title": "SAT Verbal+Math Total"}}
    },
    {
      "transform": [{"filter": "datum.layer === 'line' && datum.stat === 'national'"}],
      "mark": {"type": "text", "fontSize": 23, "font": "Liberation Sans", "color": "#111111", "baseline": "middle", "align": "center"},
      "encoding": {
        "text": {"field": "year", "type": "nominal"},
        "x": {"datum": 11.5, "type": "quantitative", "axis": null},
        "y": {"datum": 1639, "type": "quantitative", "title": "SAT Verbal+Math Total"}
      }
    }
  ]
}
}
